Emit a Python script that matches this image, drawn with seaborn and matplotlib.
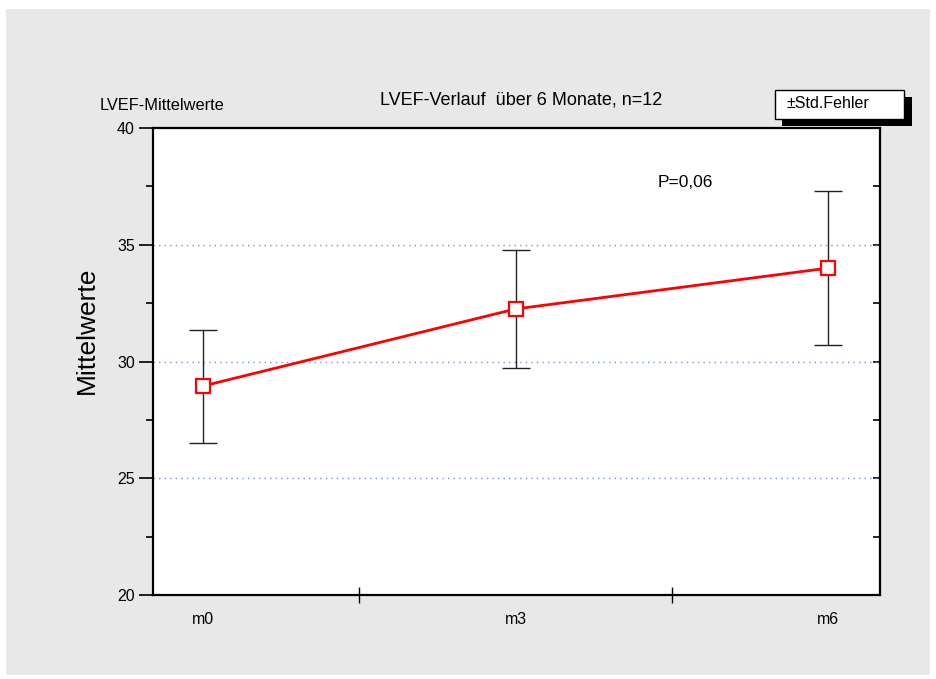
import matplotlib
matplotlib.use("Agg")
import matplotlib.pyplot as plt
import seaborn as sns
import pandas as pd
from matplotlib.patches import Rectangle
from matplotlib.ticker import FixedLocator, MultipleLocator

# Data
categories = ["m0", "m3", "m6"]
means = [28.95, 32.25, 34.0]
std_err = [2.42, 2.53, 3.3]
y_ticks = [20, 25, 30, 35, 40]
title = "LVEF-Verlauf  über 6 Monate, n=12"
p_text = "P=0,06"
legend_text = "±Std.Fehler"

sns.set_theme(style="white")
plt.rcParams["font.family"] = ["Liberation Sans", "DejaVu Sans"]
plt.rcParams["text.color"] = "black"
plt.rcParams["xtick.color"] = "black"
plt.rcParams["ytick.color"] = "black"
plt.rcParams["axes.labelcolor"] = "black"

W, H = 936, 679
fig = plt.figure(figsize=(W / 100, H / 100), dpi=100, facecolor="white")

def fx(px):
    return px / W

def fy(py):
    return 1 - py / H

# grey background panel
bg = Rectangle((fx(6), fy(675)), fx(930) - fx(6), fy(9) - fy(675),
               transform=fig.transFigure, facecolor="#e8e8e8",
               edgecolor="none", zorder=-10)
fig.patches.append(bg)

ax = fig.add_axes([fx(153), fy(595), fx(880) - fx(153), fy(128) - fy(595)])
ax.set_facecolor("white")
ax.set_zorder(1)

pos = list(range(len(categories)))
df = pd.DataFrame({"pos": pos, "mean": means, "cat": categories})

ax.errorbar(pos, means, yerr=std_err, fmt="none", ecolor="#222222",
            elinewidth=1.0, capsize=10, capthick=1.0, zorder=2)
sns.lineplot(data=df, x="pos", y="mean", ax=ax, color="#ff0000", linewidth=2,
             marker="s", markersize=9.5, markerfacecolor="white",
             markeredgecolor="#ff0000", markeredgewidth=1.6, zorder=3)

ax.set_xlim(-0.16, 2.166)
ax.set_ylim(20, 40)

# grid lines
for yv in y_ticks[1:-1]:
    ax.axhline(yv, color="#7090d8", linestyle=(0, (1, 3)), linewidth=1.0, zorder=1)

# y axis ticks
ax.yaxis.set_major_locator(FixedLocator(y_ticks))
ax.yaxis.set_minor_locator(MultipleLocator(2.5))
ax.tick_params(axis="y", which="major", direction="out", length=10, width=1.2,
               color="black", labelsize=11.5, pad=3, left=True, right=False)
ax.tick_params(axis="y", which="minor", direction="out", length=5, width=1.2,
               color="black", left=True, right=False)
ax.set_yticklabels([str(v) for v in y_ticks])

# right side inward ticks via secondary axis
ax2 = ax.secondary_yaxis("right")
ax2.yaxis.set_major_locator(MultipleLocator(2.5))
ax2.tick_params(axis="y", direction="in", length=5, width=1.2, color="black",
                labelright=False)
ax2.spines["right"].set_visible(False)

# x axis: category labels without tick marks, separators at 0.5/1.5
ax.set_xticks(pos)
ax.set_xticklabels(categories)
ax.xaxis.set_minor_locator(FixedLocator([0.5, 1.5]))
ax.tick_params(axis="x", which="major", length=0, labelsize=11.5, pad=12)
ax.tick_params(axis="x", which="minor", direction="inout", length=12, width=1.0,
               color="black", bottom=True)

for s in ax.spines.values():
    s.set_color("black")
    s.set_linewidth(1.6)
    s.set_visible(True)

ax.set_xlabel("")
ax.set_ylabel("Mittelwerte", fontsize=19)
ax.yaxis.set_label_coords(-0.074, 0.566)

# texts
fig.text(fx(100), fy(106), "LVEF-Mittelwerte", fontsize=11.8, ha="left", va="center")
fig.text(fx(521), fy(100), title, fontsize=13, ha="center", va="center")
ax.text(1.453, 37.65, p_text, fontsize=12.5, ha="left", va="center")

# legend box with shadow
fig.patches.append(Rectangle((fx(782), fy(126)), fx(912) - fx(782), fy(97) - fy(126),
                             transform=fig.transFigure, facecolor="black",
                             edgecolor="none", zorder=4))
fig.patches.append(Rectangle((fx(775), fy(119)), fx(904) - fx(775), fy(90) - fy(119),
                             transform=fig.transFigure, facecolor="white",
                             edgecolor="black", linewidth=1.0, zorder=5))
fig.text(fx(828), fy(104), legend_text, fontsize=11.5, ha="center", va="center", zorder=6)

fig.savefig("out.png", dpi=100, facecolor="white")
